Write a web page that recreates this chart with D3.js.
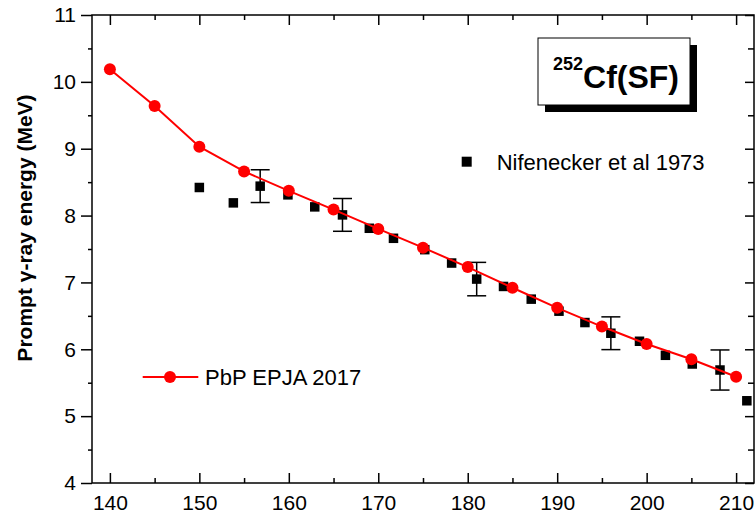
<!DOCTYPE html>
<html>
<head>
<meta charset="utf-8">
<script src="https://cdn.jsdelivr.net/npm/d3@7"></script>
<style>
  html, body { margin: 0; padding: 0; background: #fff; }
  svg { display: block; }
  text { font-family: "Liberation Sans", Arial, sans-serif; fill: #000; }
</style>
</head>
<body>
<svg id="chart" width="756" height="515"></svg>
<script>
// PbP EPJA 2017 (model)
const pbpMass = [140, 145, 150, 155, 160, 165, 170, 175, 180, 185, 190, 195, 200, 205, 210];
const pbpEnergy = [10.19, 9.64, 9.03, 8.66, 8.37, 8.09, 7.80, 7.52, 7.23, 6.92, 6.62, 6.34, 6.08, 5.85, 5.59];

// Nifenecker et al 1973 (experiment)
const nifMass = [150.0, 153.8, 156.8, 159.9, 162.9, 166.0, 169.0, 171.7, 175.2, 178.2, 181.0,
                 184.0, 187.1, 190.2, 193.1, 196.0, 199.2, 202.1, 205.1, 208.2, 211.2];
const nifEnergy = [8.42, 8.19, 8.44, 8.31, 8.13, 8.01, 7.81, 7.66, 7.49, 7.29, 7.05,
                   6.94, 6.75, 6.57, 6.40, 6.24, 6.12, 5.91, 5.78, 5.69, 5.23];
const nifError = [null, null, 0.245, null, null, 0.245, null, null, null, null, 0.25,
                  null, null, null, null, 0.245, null, null, null, 0.30, null];

const xTicks = [140, 150, 160, 170, 180, 190, 200, 210];
const xMinorTicks = [145, 155, 165, 175, 185, 195, 205];
const yTicks = [4, 5, 6, 7, 8, 9, 10, 11];
const yMinorTicks = [4.5, 5.5, 6.5, 7.5, 8.5, 9.5, 10.5];

const yTitle = "Prompt \u03B3-ray energy (MeV)";
const boxSup = "252";
const boxMain = "Cf(SF)";
const legendNif = "Nifenecker et al 1973";
const legendPbp = "PbP EPJA 2017";

const svg = d3.select("#chart");
const L = 92, R = 754, T = 15, B = 483;

const x = d3.scaleLinear().domain([138, 212]).range([L, R]);
const y = d3.scaleLinear().domain([4, 11]).range([B, T]);

svg.append("rect").attr("width", 756).attr("height", 515).attr("fill", "#fff");

// axes
function styleAxis(g) {
  g.select(".domain").remove();
  g.selectAll("line").attr("stroke", "#000").attr("stroke-width", 1.5);
  g.selectAll("text").style("font-family", "'Liberation Sans', Arial, sans-serif")
    .style("font-size", "21px").attr("fill", "#000");
}

// bottom
svg.append("g").attr("transform", `translate(0,${B})`)
  .call(d3.axisBottom(x).tickValues(xTicks).tickSize(-10).tickPadding(12).tickFormat(d3.format("d")))
  .call(styleAxis);
svg.append("g").attr("transform", `translate(0,${B})`)
  .call(d3.axisBottom(x).tickValues(xMinorTicks).tickSize(-5).tickFormat(""))
  .call(styleAxis);
// top
svg.append("g").attr("transform", `translate(0,${T})`)
  .call(d3.axisTop(x).tickValues(xTicks).tickSize(-10).tickFormat(""))
  .call(styleAxis);
svg.append("g").attr("transform", `translate(0,${T})`)
  .call(d3.axisTop(x).tickValues(xMinorTicks).tickSize(-5).tickFormat(""))
  .call(styleAxis);
// left (outward ticks)
svg.append("g").attr("transform", `translate(${L},0)`)
  .call(d3.axisLeft(y).tickValues(yTicks).tickSize(11).tickPadding(5).tickFormat(d3.format("d")))
  .call(styleAxis);
svg.append("g").attr("transform", `translate(${L},0)`)
  .call(d3.axisLeft(y).tickValues(yMinorTicks).tickSize(4).tickFormat(""))
  .call(styleAxis);
// right (inward)
svg.append("g").attr("transform", `translate(${R},0)`)
  .call(d3.axisRight(y).tickValues(yTicks).tickSize(-9).tickFormat(""))
  .call(styleAxis);
svg.append("g").attr("transform", `translate(${R},0)`)
  .call(d3.axisRight(y).tickValues(yMinorTicks).tickSize(-6).tickFormat(""))
  .call(styleAxis);

// frame
svg.append("rect").attr("x", L).attr("y", T).attr("width", R - L).attr("height", B - T)
  .attr("fill", "none").attr("stroke", "#000").attr("stroke-width", 1.5);

// y title
svg.append("text")
  .attr("transform", `translate(32,228) rotate(-90)`)
  .attr("text-anchor", "middle")
  .style("font-size", "21px").style("font-weight", "bold")
  .text(yTitle);

// Nifenecker error bars
const nifData = nifMass.map((m, i) => ({ m, e: nifEnergy[i], err: nifError[i] }));
const errG = svg.append("g").attr("stroke", "#000").attr("stroke-width", 1.5);
nifData.filter(d => d.err != null).forEach(d => {
  const cx = x(d.m), y1 = y(d.e + d.err), y2 = y(d.e - d.err);
  errG.append("line").attr("x1", cx).attr("x2", cx).attr("y1", y1).attr("y2", y2);
  errG.append("line").attr("x1", cx - 9.5).attr("x2", cx + 9.5).attr("y1", y1).attr("y2", y1);
  errG.append("line").attr("x1", cx - 9.5).attr("x2", cx + 9.5).attr("y1", y2).attr("y2", y2);
});

// Nifenecker squares
const sq = 9.5;
svg.append("g").selectAll("rect").data(nifData).join("rect")
  .attr("x", d => x(d.m) - sq / 2).attr("y", d => y(d.e) - sq / 2)
  .attr("width", sq).attr("height", sq).attr("fill", "#000");

// PbP line + circles
const pbpData = pbpMass.map((m, i) => ({ m, e: pbpEnergy[i] }));
svg.append("path").datum(pbpData)
  .attr("d", d3.line().x(d => x(d.m)).y(d => y(d.e)))
  .attr("fill", "none").attr("stroke", "#ff0000").attr("stroke-width", 2);
svg.append("g").selectAll("circle").data(pbpData).join("circle")
  .attr("cx", d => x(d.m)).attr("cy", d => y(d.e)).attr("r", 6)
  .attr("fill", "#ff0000");

// title box with shadow
svg.append("rect").attr("x", 545).attr("y", 45).attr("width", 152).attr("height", 67).attr("fill", "#000");
svg.append("rect").attr("x", 538).attr("y", 38).attr("width", 152).attr("height", 67)
  .attr("fill", "#fff").attr("stroke", "#000").attr("stroke-width", 1);
const tt = svg.append("text").attr("x", 553).style("font-weight", "bold");
tt.append("tspan").attr("y", 70).style("font-size", "18px").text(boxSup);
tt.append("tspan").attr("y", 88).style("font-size", "32px").text(boxMain);

// legend: Nifenecker
svg.append("rect").attr("x", 466.7 - 5).attr("y", 161.7 - 5).attr("width", 10).attr("height", 10).attr("fill", "#000");
svg.append("text").attr("x", 496.7).attr("y", 170).style("font-size", "22px").text(legendNif);

// legend: PbP
svg.append("line").attr("x1", 142.7).attr("x2", 198.3).attr("y1", 377).attr("y2", 377)
  .attr("stroke", "#ff0000").attr("stroke-width", 2);
svg.append("circle").attr("cx", 170).attr("cy", 377).attr("r", 6).attr("fill", "#ff0000");
svg.append("text").attr("x", 205).attr("y", 385).style("font-size", "22px").text(legendPbp);
</script>
</body>
</html>
